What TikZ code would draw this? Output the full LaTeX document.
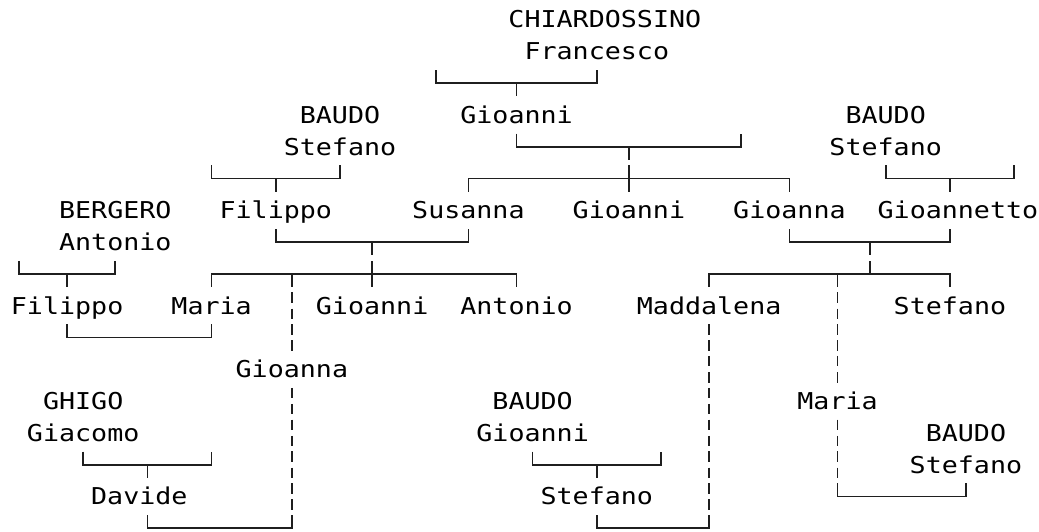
\documentclass[tikz,border=0pt]{standalone}
\usepackage{fontspec}
\newfontfamily\treemono[FakeStretch=1.15]{DejaVu Sans Mono}
% bracket opening upwards (└──┘) at row #3 from column #1 to #2
\newcommand\ftBr[3]{\draw[ln] (#1,#3-0.41) -- (#1,#3) -- (#2,#3) -- (#2,#3-0.41);}
% bracket opening downwards (┌──┐)
\newcommand\ftTop[3]{\draw[ln] (#1,#3+0.41) -- (#1,#3) -- (#2,#3) -- (#2,#3+0.41);}
\newcommand\ftDn[2]{\draw[ln] (#1,#2) -- (#1,#2+0.41);}
\newcommand\ftUp[2]{\draw[ln] (#1,#2) -- (#1,#2-0.41);}
\newcommand\ftDash[2]{\draw[ln] (#1,#2-0.42) -- (#1,#2-0.09) (#1,#2+0.09) -- (#1,#2+0.42);}
\begin{document}
\begin{tikzpicture}[x=16.05pt,y=-31.8pt,
  nm/.style={anchor=base, inner sep=0pt, outer sep=0pt,
    font={\treemono\fontsize{23.2pt}{28pt}\selectfont}, text=black},
  ln/.style={line width=1.7pt, draw=black!88, line cap=butt, line join=miter}]
\useasboundingbox (-1.1838,-0.6132) rectangle (63.551,16.085);

% ---- names ----
\node[nm] (chiard)  at (36.5,0.266) {CHIARDOSSINO};
\node[nm] (franc)   at (36,1.266)   {Francesco};
\node[nm] (baudoA)  at (20,3.266)   {BAUDO};
\node[nm] (gioA)    at (31,3.266)   {Gioanni};
\node[nm] (baudoB)  at (54,3.266)   {BAUDO};
\node[nm] (stefA)   at (20,4.266)   {Stefano};
\node[nm] (stefB)   at (54,4.266)   {Stefano};
\node[nm] (berg)    at (6,6.266)    {BERGERO};
\node[nm] (filA)    at (16,6.266)   {Filippo};
\node[nm] (susa)    at (28,6.266)   {Susanna};
\node[nm] (gioB)    at (38,6.266)   {Gioanni};
\node[nm] (gnaA)    at (48,6.266)   {Gioanna};
\node[nm] (gnetto)  at (58.5,6.266) {Gioannetto};
\node[nm] (anto)    at (6,7.266)    {Antonio};
\node[nm] (filB)    at (3,9.266)    {Filippo};
\node[nm] (mariaA)  at (12,9.266)   {Maria};
\node[nm] (gioC)    at (22,9.266)   {Gioanni};
\node[nm] (antoB)   at (31,9.266)   {Antonio};
\node[nm] (madd)    at (43,9.266)   {Maddalena};
\node[nm] (stefC)   at (58,9.266)   {Stefano};
\node[nm] (gnaB)    at (17,11.266)  {Gioanna};
\node[nm] (ghigo)   at (4,12.266)   {GHIGO};
\node[nm] (baudoC)  at (32,12.266)  {BAUDO};
\node[nm] (mariaB)  at (51,12.266)  {Maria};
\node[nm] (giac)    at (4,13.266)   {Giacomo};
\node[nm] (gioD)    at (32,13.266)  {Gioanni};
\node[nm] (baudoD)  at (59,13.266)  {BAUDO};
\node[nm] (stefD)   at (59,14.266)  {Stefano};
\node[nm] (david)   at (7.5,15.266) {Davide};
\node[nm] (stefE)   at (36,15.266)  {Stefano};

% ---- connectors ----
\ftBr{26}{36}{2} \ftDn{31}{2}
\ftBr{31}{45}{4} \ftDn{38}{4}
\ftBr{12}{20}{5} \ftDn{16}{5}
\ftTop{28}{48}{5} \ftDn{38}{5} \ftUp{38}{5}
\ftBr{54}{62}{5} \ftDn{58}{5}
\ftBr{16}{28}{7} \ftDn{22}{7}
\ftBr{48}{58}{7} \ftDn{53}{7}
\ftBr{0}{6}{8} \ftDn{3}{8}
\ftTop{12}{31}{8} \ftDn{17}{8} \ftDn{22}{8} \ftUp{22}{8}
\ftTop{43}{58}{8} \ftDn{51}{8} \ftUp{53}{8}
\ftBr{3}{12}{10}
\ftBr{4}{12}{14} \ftDn{8}{14}
\ftBr{32}{40}{14} \ftDn{36}{14}
\ftBr{51}{59}{15}
\ftBr{8}{17}{16}
\ftBr{36}{43}{16}

% ---- broken vertical lines ----
\foreach \r in {9,10,12,13,14,15} {\ftDash{17}{\r}}
\foreach \r in {10,11,12,13,14,15} {\ftDash{43}{\r}}
\foreach \r in {9,10,11,13,14} {\ftDash{51}{\r}}
\end{tikzpicture}
\end{document}
